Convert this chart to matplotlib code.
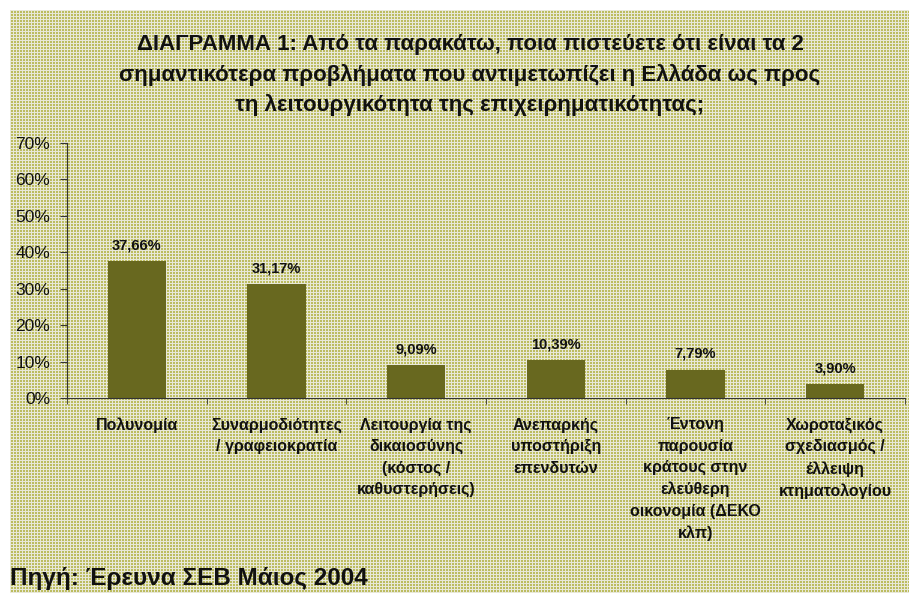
import matplotlib
matplotlib.use('Agg')
import matplotlib.pyplot as plt
import numpy as np

plt.rcParams['font.family'] = ['Liberation Sans', 'DejaVu Sans']

# data
categories = [
    'Πολυνομία',
    'Συναρμοδιότητες\n/ γραφειοκρατία',
    'Λειτουργία της\nδικαιοσύνης\n(κόστος /\nκαθυστερήσεις)',
    'Ανεπαρκής\nυποστήριξη\nεπενδυτών',
    'Έντονη\nπαρουσία\nκράτους στην\nελεύθερη\nοικονομία (ΔΕΚΟ\nκλπ)',
    'Χωροταξικός\nσχεδιασμός /\nέλλειψη\nκτηματολογίου',
]
values = [37.66, 31.17, 9.09, 10.39, 7.79, 3.90]
yticks = [0, 10, 20, 30, 40, 50, 60, 70]

title = ('ΔΙΑΓΡΑΜΜΑ 1: Από τα παρακάτω, ποια πιστεύετε ότι είναι τα 2\n'
         'σημαντικότερα προβλήματα που αντιμετωπίζει η Ελλάδα ως προς\n'
         'τη λειτουργικότητα της επιχειρηματικότητας;')
source = 'Πηγή: Έρευνα ΣΕΒ Μάιος 2004'

W, H = 909, 593
fig = plt.figure(figsize=(W / 100, H / 100), dpi=100)
fig.patch.set_facecolor('white')

# dotted background pattern (starts 10 px in from top-left)
tile = np.array([[0, 0, 0], [0, 1, 1], [0, 1, 1]])
pat = np.tile(tile, (H // 3 + 1, W // 3 + 1))[:H - 10, :W - 10]
light = np.array([0.91, 0.91, 0.85])
olive = np.array([0.74, 0.74, 0.38])
img = np.where(pat[..., None] == 1, olive, light)
fig.figimage(img, xo=10, yo=0, origin='upper', zorder=-5)

ax = fig.add_axes([67 / W, (H - 398) / H, (905 - 67) / W, (398 - 143) / H])
ax.set_zorder(2)
ax.patch.set_alpha(0)

x = np.arange(len(categories))
bars = ax.bar(x, values, width=0.42, color='#68681f', zorder=2)
for xi, v in zip(x, values):
    ax.text(xi, v + 2.4, f'{v:.2f}%'.replace('.', ','), ha='center', va='bottom',
            fontsize=10.5, fontweight='bold', color='#111111')

ax.set_xlim(-0.5, len(categories) - 0.5)
ax.set_ylim(0, 70)
ax.set_yticks(yticks)
ax.set_yticklabels([f'{t}%' for t in yticks], fontsize=12.5, color='#111111')
ax.set_xticks(x)
ax.set_xticklabels(categories, fontsize=11.5, fontweight='bold', color='#111111',
                   linespacing=1.52, va='top')
ax.tick_params(axis='x', length=0, pad=14)
ax.set_xticks(np.arange(len(categories) + 1) - 0.5, minor=True)
ax.tick_params(axis='x', which='minor', length=4, color='#333333')
ax.tick_params(axis='y', length=5, color='#333333', pad=7)

for s in ['top', 'right']:
    ax.spines[s].set_visible(False)
ax.spines['left'].set_color('#333333')
ax.spines['bottom'].set_color('#333333')

fig.text(470 / W, 1 - 34 / H, title, ha='center', va='top', fontsize=16,
         fontweight='bold', linespacing=1.5, color='#111111')
fig.text(10 / W, 1 - 579 / H, source, ha='left', va='center', fontsize=17.5,
         fontweight='bold', color='#111111')

plt.savefig('out.png', dpi=100)
